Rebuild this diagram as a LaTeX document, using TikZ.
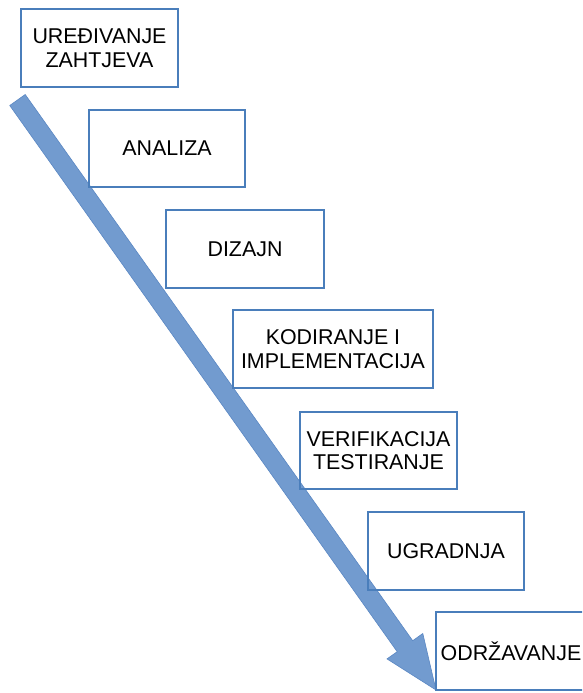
\documentclass[tikz,border=0pt]{standalone}
\usepackage{fontspec}
\setmainfont{Liberation Sans}
\definecolor{boxblue}{RGB}{74,126,187}
\definecolor{arrowblue}{RGB}{114,155,207}
\definecolor{arrowedge}{RGB}{90,135,195}
\begin{document}
\begin{tikzpicture}[x=1pt,y=-1pt,
  boxtext/.style={align=center, inner sep=0pt,
    font=\fontsize{21.4}{23.5}\selectfont, text=black},
  stepbox/.style={boxtext, draw=boxblue, line width=1.6pt, fill=none,
    minimum height=78pt}]
\useasboundingbox (0,0) rectangle (582,693);
\clip (0,0) rectangle (582,693);
% big arrow
\coordinate (s1) at (25.2,94.5);
\coordinate (s2) at (9.75,105.5);
\coordinate (e1) at (412.7,640.7);
\coordinate (e2) at (397.2,651.7);
\coordinate (w1) at (422.8,633.5);
\coordinate (w2) at (387.0,658.9);
\coordinate (tip) at (436,690);
\filldraw[fill=arrowblue, draw=arrowedge, line width=0.6pt, line join=miter]
  (s1) -- (e1) -- (w1) -- (tip) -- (w2) -- (e2) -- (s2) -- cycle;
% boxes
\node[stepbox, minimum width=157pt] (b1) at (99.5,48) {UREĐIVANJE\\ZAHTJEVA};
\node[stepbox, minimum width=156pt, minimum height=77pt] (b2) at (167,148.5) {ANALIZA};
\node[stepbox, minimum width=158pt] (b3) at (245,249) {DIZAJN};
\node[stepbox, minimum width=200pt] (b4) at (333,349) {KODIRANJE I\\IMPLEMENTACIJA};
\node[stepbox, minimum width=157pt, minimum height=77pt] (b5) at (378.5,450.5) {VERIFIKACIJA\\TESTIRANJE};
\node[stepbox, minimum width=156pt] (b6) at (446,551) {UGRADNJA};
\node[stepbox, minimum width=170pt] (b7) at (521,651) {};
\node[boxtext] (t7) at (511,651) {ODRŽAVANJE};
\end{tikzpicture}
\end{document}
